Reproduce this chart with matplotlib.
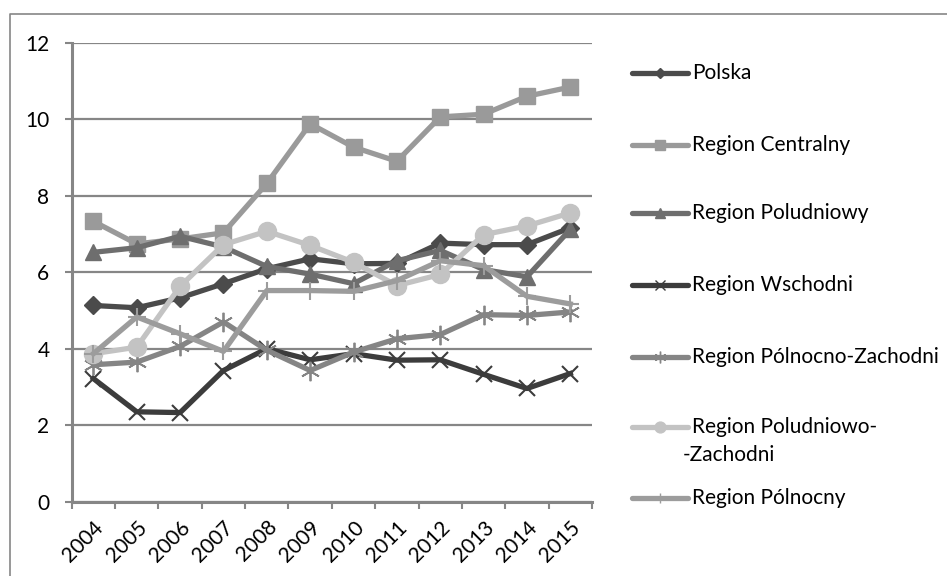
import matplotlib
matplotlib.use("Agg")
import matplotlib.pyplot as plt
from matplotlib.lines import Line2D

plt.rcParams["font.family"] = ["Lato", "DejaVu Sans"]

years = ["2004", "2005", "2006", "2007", "2008", "2009",
         "2010", "2011", "2012", "2013", "2014", "2015"]

polska       = [5.13, 5.07, 5.33, 5.70, 6.09, 6.35, 6.22, 6.23, 6.76, 6.72, 6.72, 7.16]
centralny    = [7.33, 6.74, 6.87, 7.03, 8.32, 9.88, 9.27, 8.90, 10.06, 10.13, 10.60, 10.84]
poludniowy   = [6.52, 6.64, 6.94, 6.66, 6.15, 5.95, 5.70, 6.30, 6.57, 6.07, 5.88, 7.12]
wschodni     = [3.22, 2.35, 2.33, 3.43, 4.00, 3.71, 3.87, 3.70, 3.71, 3.33, 2.96, 3.35]
pn_zachodni  = [3.58, 3.65, 4.06, 4.70, 3.96, 3.43, 3.91, 4.26, 4.37, 4.89, 4.87, 4.96]
pd_zachodni  = [3.87, 4.04, 5.63, 6.72, 7.07, 6.70, 6.26, 5.65, 5.94, 6.98, 7.21, 7.55]
polnocny     = [3.87, 4.83, 4.39, 3.93, 5.52, 5.52, 5.50, 5.78, 6.30, 6.17, 5.37, 5.17]

labels = ["Polska", "Region Centralny", "Region Poludniowy", "Region Wschodni",
          "Region Pólnocno-Zachodni", "Region Poludniowo-\n-Zachodni", "Region Pólnocny"]

series = [polska, centralny, poludniowy, wschodni, pn_zachodni, pd_zachodni, polnocny]
colors = ["#4b4b4b", "#9a9a9a", "#6e6e6e", "#3c3c3c", "#858585", "#c3c3c3", "#9c9c9c"]
markers = ["D", "s", "^", "x", "*", "o", "+"]
msizes = [9, 11, 12, 11, 14, 13, 13]

fig = plt.figure(figsize=(9.47, 5.76), dpi=100)
ax = fig.add_axes([71.7 / 947, 1 - 501.7 / 576, (592 - 71.7) / 947, (501.7 - 42.7) / 576])

x = list(range(len(years)))
for vals, col, mk, ms in zip(series, colors, markers, msizes):
    if mk in ("x", "+"):
        ax.plot(x, vals, color=col, lw=3.8, marker=mk, ms=ms, mew=1.5, mec=col)
    elif mk == "*":
        # Excel-like asterisk
        ax.plot(x, vals, color=col, lw=3.8, marker=(6, 2, 0), ms=ms, mew=1.3, mec=col)
    else:
        ax.plot(x, vals, color=col, lw=3.8, marker=mk, ms=ms, mec=col, mfc=col)

ax.set_xlim(-0.5, 11.5)
ax.set_ylim(0, 12)
ax.set_yticks(range(0, 13, 2))
ax.set_xticks([i - 0.5 for i in range(13)], minor=False)
ax.set_xticklabels([])
ax.set_xticks(x, minor=True)
ax.set_xticklabels(years, minor=True, rotation=45, ha="right", va="top",
                   rotation_mode="anchor", fontsize=15)
ax.tick_params(axis="x", which="minor", length=0, pad=11)
ax.tick_params(axis="x", which="major", length=5, width=1.5, color="#868686")
ax.tick_params(axis="y", length=5, width=1.5, color="#868686", pad=11, labelsize=15)

ax.grid(axis="y", color="#868686", lw=1.6)
ax.set_axisbelow(True)
for s in ["top", "right"]:
    ax.spines[s].set_visible(False)
for s in ["left", "bottom"]:
    ax.spines[s].set_color("#868686")
    ax.spines[s].set_linewidth(2.2)

# legend drawn like the Excel one
leg_y = [73, 145, 213, 285, 357, 427, 498]
for lab, col, mk, ms, yy in zip(labels, colors, markers, msizes, leg_y):
    yf = 1 - yy / 576
    m = (6, 2, 0) if mk == "*" else mk
    fig.add_artist(Line2D([632 / 947, 660 / 947, 688 / 947], [yf, yf, yf], color=col, lw=3.8,
                          marker=m, markevery=[1], ms=ms * 0.6, mec=col, mfc=col,
                          solid_capstyle="round", transform=fig.transFigure))
    lines = lab.split("\n")
    fig.text(692 / 947, yf, lines[0], fontsize=15, va="center", ha="left")
    if len(lines) > 1:
        fig.text(683 / 947, 1 - (yy + 28) / 576, lines[1], fontsize=15, va="center", ha="left")

# chart area border (top and left visible)
fig.add_artist(Line2D([10 / 947, 10 / 947, 1], [0, 1 - 14 / 576, 1 - 14 / 576],
                      color="#868686", lw=1.2, transform=fig.transFigure))

fig.savefig("out.png", dpi=100)
